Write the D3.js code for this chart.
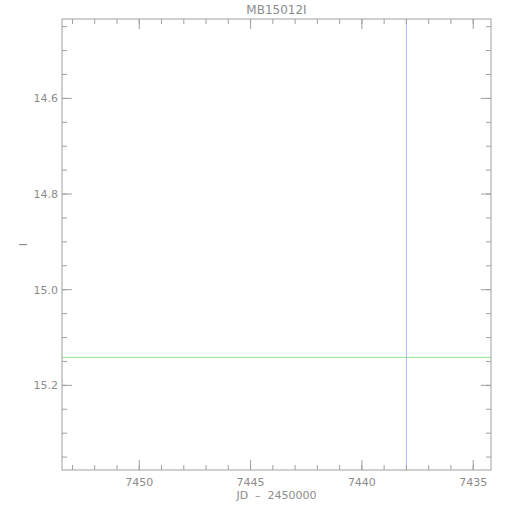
<!DOCTYPE html>
<meta charset="utf-8">
<style>
body { margin: 0; background: #fff; }
text { font-family: "DejaVu Sans", sans-serif; fill: #8c8c8c; }
</style>
<body>
<svg id="plot" width="510" height="510"></svg>
</body>
<script src="https://d3js.org/d3.v7.min.js"></script>
<script>

var title = "MB15012I";
var xLabel = "JD - 2450000";
var yLabel = "I";
var xDomain = [7453.47, 7434.2];
var yDomain = [14.434, 15.377];
var xMajor = [7450, 7445, 7440, 7435];
var xMinor = d3.range(7434, 7454, 1);
var yMajor = [14.6, 14.8, 15.0, 15.2];
var yMinor = d3.range(14.45, 15.38, 0.05);
var vLines = [7438];
var hLines = [15.1415];

var svg = d3.select("#plot"),
    margin = {top: 19, right: 19, bottom: 40, left: 62},
    width = +svg.attr("width") - margin.left - margin.right,
    height = +svg.attr("height") - margin.top - margin.bottom,
    g = svg.append("g").attr("transform", "translate(" + margin.left + "," + margin.top + ")");

var x = d3.scaleLinear().domain(xDomain).range([0, width]);
var y = d3.scaleLinear().domain(yDomain).range([0, height]);

var axisCol = "#a0a0a0";

// data lines
g.selectAll(".hline").data(hLines).enter().append("line")
    .attr("x1", 0).attr("x2", width)
    .attr("y1", function(d) { return y(d); }).attr("y2", function(d) { return y(d); })
    .attr("stroke", "#8ee88e").attr("stroke-width", 1);

g.selectAll(".vline").data(vLines).enter().append("line")
    .attr("x1", function(d) { return x(d); }).attr("x2", function(d) { return x(d); })
    .attr("y1", 0).attr("y2", height)
    .attr("stroke", "#b0b6f4").attr("stroke-width", 1);

// frame
g.append("rect").attr("width", width).attr("height", height)
    .attr("fill", "none").attr("stroke", axisCol);

function ticks(vals, len, horiz) {
  vals.forEach(function(v) {
    if (horiz) {
      var px = x(v);
      if (px < 0 || px > width) return;
      g.append("line").attr("x1", px).attr("x2", px).attr("y1", height).attr("y2", height - len).attr("stroke", axisCol);
      g.append("line").attr("x1", px).attr("x2", px).attr("y1", 0).attr("y2", len).attr("stroke", axisCol);
    } else {
      var py = y(v);
      if (py < 0 || py > height) return;
      g.append("line").attr("y1", py).attr("y2", py).attr("x1", 0).attr("x2", len).attr("stroke", axisCol);
      g.append("line").attr("y1", py).attr("y2", py).attr("x1", width).attr("x2", width - len).attr("stroke", axisCol);
    }
  });
}
ticks(xMinor, 5, true);
ticks(xMajor, 10, true);
ticks(yMinor, 5, false);
ticks(yMajor, 10, false);

g.selectAll(".xl").data(xMajor).enter().append("text")
    .attr("x", function(d) { return x(d); })
    .attr("y", height + 16)
    .attr("text-anchor", "middle")
    .attr("font-size", "11px")
    .text(function(d) { return d; });

g.selectAll(".yl").data(yMajor).enter().append("text")
    .attr("x", -4)
    .attr("y", function(d) { return y(d); })
    .attr("dy", "0.35em")
    .attr("text-anchor", "end")
    .attr("font-size", "11px")
    .text(function(d) { return d.toFixed(1); });

svg.append("text")
    .attr("x", margin.left + width / 2).attr("y", 14)
    .attr("text-anchor", "middle").attr("font-size", "12px")
    .text(title);

svg.append("text")
    .attr("x", margin.left + width / 2).attr("y", margin.top + height + 29)
    .attr("text-anchor", "middle").attr("font-size", "11px")
    .attr("xml:space", "preserve")
    .text(xLabel.replace(" - ", "  \u2013  "));

svg.append("text")
    .attr("transform", "translate(27," + (margin.top + height / 2) + ") rotate(-90)")
    .attr("text-anchor", "middle").attr("font-size", "11px")
    .text(yLabel);

</script>
